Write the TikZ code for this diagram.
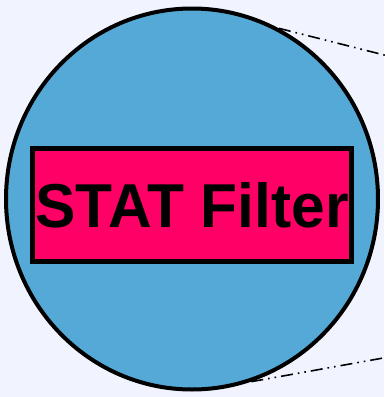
\documentclass[tikz,border=0pt]{standalone}
\usepackage{fontspec}
\setmainfont{Liberation Sans}
\usepackage{xcolor}
\usepackage{tikz}
\usetikzlibrary{shapes.geometric}
\definecolor{bgpale}{HTML}{F1F4FE}
\definecolor{diskblue}{HTML}{55A9D6}
\definecolor{filterpink}{HTML}{FF0066}

\begin{document}
\begin{tikzpicture}[x=1pt,y=-1pt,
  disk/.style={draw,ellipse,line width=4pt,fill=diskblue,inner sep=0pt,minimum width=372pt,minimum height=381pt},
  filterbox/.style={draw,line width=5pt,fill=filterpink,inner sep=0pt,minimum width=319pt,minimum height=113pt,font=\bfseries\fontsize{62}{62}\selectfont},
  zoomline/.style={line width=1.6pt,dash pattern=on 12pt off 5pt on 1.6pt off 5pt on 1.6pt off 5pt}]
\fill[bgpale] (0,0) rectangle (384,397);
\useasboundingbox (0,0) rectangle (384,397);
\coordinate (topfar) at (400,59);
\coordinate (botfar) at (400,355);
\node[disk] (lens) at (192,199) {};
\node[filterbox] (stat) at (192,205) {\scalebox{0.975}[1]{STAT Filter}};
\draw[zoomline] (lens.63)--(topfar);
\draw[zoomline] (lens.-72)--(botfar);
\end{tikzpicture}
\end{document}
